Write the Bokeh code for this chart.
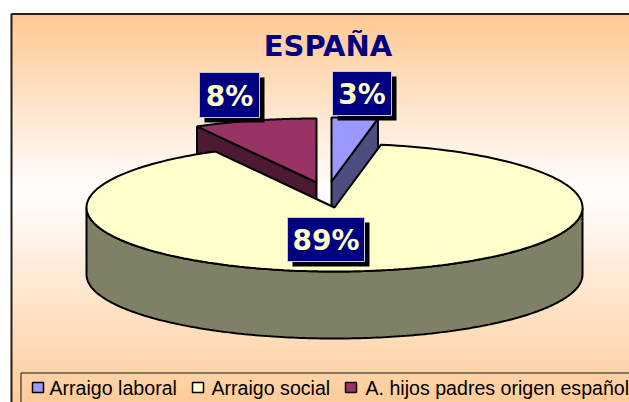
import numpy as np
from bokeh.plotting import figure
from bokeh.models import Range1d
from bokeh.core.properties import value
from bokeh.embed import file_html
from bokeh.resources import INLINE

# ---- data ----
categories = ["Arraigo laboral", "Arraigo social", "A. hijos padres origen español"]
percent = [3, 89, 8]
labels = ["3%", "89%", "8%"]
title = "ESPAÑA"

# ---- style / layout ----
top_cols = ["#9999ff", "#ffffcc", "#993366"]
wall_cols = ["#4d4d80", "#808066", "#4d1933"]
centers = [(331, 181), (334, 207), (316, 182)]
RX, RY, DEPTH = 248, 64, 67
label_boxes = [(332, 71, 391, 115), (287, 217, 364, 261), (199, 72, 259, 117)]
grad_y = [13, 190, 402]
grad_g = [201, 255, 204]
grad_b = [147, 255, 153]

p = figure(width=629, height=402, output_backend="svg", toolbar_location=None,
           x_range=Range1d(0, 629), y_range=Range1d(402, 0), min_border=0)
p.axis.visible = False
p.grid.visible = False
p.outline_line_color = None
p.background_fill_color = "white"
p.border_fill_color = "white"

# background gradient strips
ys = np.arange(13, 402, 2)
g = np.interp(ys, grad_y, grad_g).astype(int)
b = np.interp(ys, grad_y, grad_b).astype(int)
p.quad(left=10, right=629, top=ys, bottom=ys + 2.5,
       fill_color=[f"#ff{a:02x}{c:02x}" for a, c in zip(g, b)], line_color=None)
# frame
p.line([11, 11, 629], [402, 13.5, 13.5], line_color="#222222", line_width=2)


def pt(c, ang, dy=0):
    t = np.radians(ang)
    return c[0] + RX * np.sin(t), c[1] - RY * np.cos(t) + dy


def sector(c, a0, a1):
    a = np.linspace(a0, a1, 240)
    x, y = pt(c, a)
    return [c[0], *x], [c[1], *y]


def radial_wall(c, ang):
    x, y = pt(c, ang)
    return [c[0], x, x, c[0]], [c[1], y, y + DEPTH, c[1] + DEPTH]


cum = np.cumsum([0] + percent) * 3.6
spans = [(cum[i], cum[i + 1]) for i in range(3)]
LW = 2

# small exploded slices: radial walls (yellow slice then overlaps them)
x, y = radial_wall(centers[0], spans[0][1])
p.patch(x, y, fill_color=wall_cols[0], line_color="black", line_width=LW)
x, y = radial_wall(centers[2], spans[2][0])
p.patch(x, y, fill_color=wall_cols[2], line_color="black", line_width=LW)
for i in (0, 2):
    x, y = sector(centers[i], *spans[i])
    p.patch(x, y, fill_color=top_cols[i], line_color="black", line_width=LW)

# big slice: outer wall then top
a = np.linspace(90, 270, 200)
xt, yt = pt(centers[1], a)
xb, yb = pt(centers[1], a[::-1], DEPTH)
p.patch([*xt, *xb], [*yt, *yb], fill_color=wall_cols[1], line_color="black", line_width=LW)
x, y = sector(centers[1], *spans[1])
p.patch(x, y, fill_color=top_cols[1], line_color="black", line_width=LW)

# title
p.text([327.5], [45], text=[title], text_font=value("DejaVu Sans"), text_font_style="bold",
       text_font_size="29px", text_color="#000080", text_align="center", text_baseline="middle")

# data labels
for (l, t, r, bt), s in zip(label_boxes, labels):
    p.quad(left=l + 5, right=r + 5, top=t + 5, bottom=bt + 5, fill_color="black", line_color=None)
    p.quad(left=l, right=r, top=t, bottom=bt, fill_color="#000080", line_color="#c8c8d8", line_width=1)
    p.text([(l + r) / 2], [(t + bt) / 2 + 1], text=[s], text_font=value("DejaVu Sans"),
           text_font_style="bold", text_font_size="28px", text_color="#ffffcc",
           text_align="center", text_baseline="middle")

# legend
p.line([20.5, 20.5, 629], [402, 372.5, 372.5], line_color="#555544", line_width=1.5)
leg_sq = [32, 192, 345]
leg_tx = [49, 211, 365]
for i, c in enumerate(categories):
    p.quad(left=leg_sq[i], right=leg_sq[i] + 11, top=382, bottom=392, fill_color=top_cols[i],
           line_color="black", line_width=1.5)
    p.text([leg_tx[i]], [387], text=[c], text_font=value("Liberation Sans"),
           text_font_size="19.6px", text_color="black", text_align="left", text_baseline="middle")

open("out.html", "w").write(file_html(p, INLINE))
